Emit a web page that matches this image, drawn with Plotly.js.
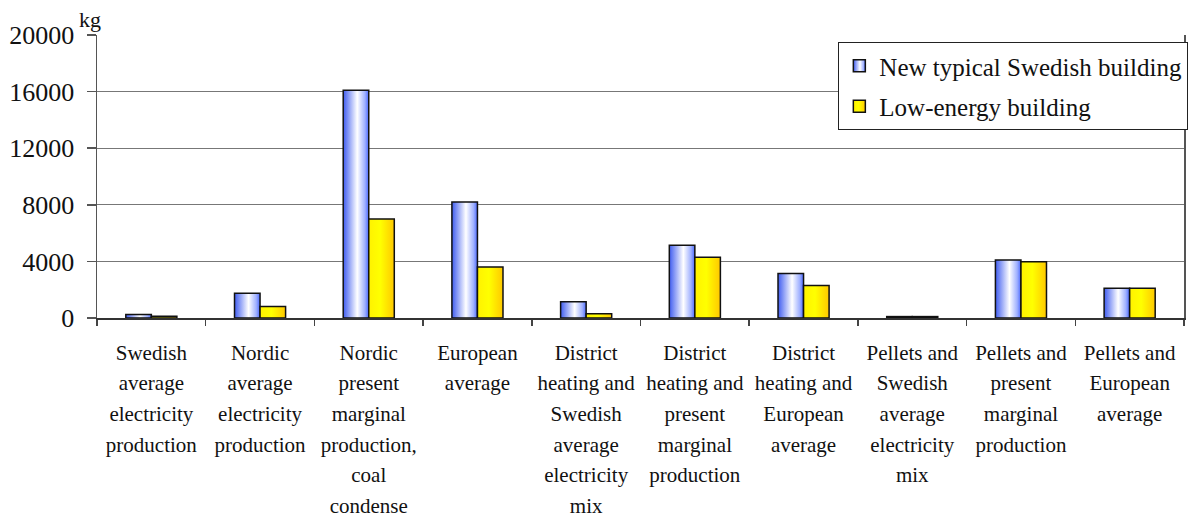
<!DOCTYPE html>
<html>
<head>
<meta charset="utf-8">
<script src="https://cdn.plot.ly/plotly-3.0.1.min.js"></script>
<style>
  html, body { margin: 0; padding: 0; background: #fff; }
  #chart { width: 1191px; height: 520px; }
</style>
</head>
<body>
<div id="chart"></div>
<script>
// ---- data ----
var categories = [
  "Swedish<br>average<br>electricity<br>production",
  "Nordic<br>average<br>electricity<br>production",
  "Nordic<br>present<br>marginal<br>production,<br>coal<br>condense",
  "European<br>average",
  "District<br>heating and<br>Swedish<br>average<br>electricity<br>mix",
  "District<br>heating and<br>present<br>marginal<br>production",
  "District<br>heating and<br>European<br>average",
  "Pellets and<br>Swedish<br>average<br>electricity<br>mix",
  "Pellets and<br>present<br>marginal<br>production",
  "Pellets and<br>European<br>average"
];
var seriesNames = ["New typical Swedish building", "Low-energy building"];
var typicalValues = [250, 1750, 16100, 8200, 1150, 5150, 3150, 100, 4100, 2100];
var lowEnergyValues = [120, 820, 7000, 3600, 300, 4300, 2300, 100, 3980, 2100];
var yTickVals = [0, 4000, 8000, 12000, 16000, 20000];
var yUnit = "kg";

var FONT = "Liberation Serif";

var traces = [
  {
    type: "bar", name: seriesNames[0], x: categories, y: typicalValues,
    legendgroup: "a",
    marker: { color: "#a9b8ff", line: { color: "#111", width: 1.5 } },
    hoverinfo: "y"
  },
  {
    type: "bar", name: seriesNames[1], x: categories, y: lowEnergyValues,
    legendgroup: "b",
    marker: { color: "#ffe000", line: { color: "#111", width: 1.5 } },
    hoverinfo: "y"
  }
];

var layout = {
  width: 1191, height: 520,
  margin: { l: 97, r: 3, t: 35, b: 202 },
  paper_bgcolor: "#fff", plot_bgcolor: "#fff",
  barmode: "group", bargap: 0.53, bargroupgap: 0,
  font: { family: FONT, color: "#111" },
  showlegend: true,
  legend: {
    x: 0.682, y: 0.975, xanchor: "left", yanchor: "top",
    bgcolor: "#fff", bordercolor: "#222", borderwidth: 1,
    font: { family: FONT, size: 25, color: "#111" },
    traceorder: "grouped",
    tracegroupgap: 5
  },
  xaxis: {
    type: "category",
    tickson: "boundaries",
    ticks: "outside", ticklen: 6, tickcolor: "#444", tickwidth: 1.5,
    showline: true, linecolor: "#333", linewidth: 1.5,
    showgrid: false, zeroline: false,
    tickangle: 0,
    tickfont: { family: FONT, size: 21, color: "#111" },
    ticklabelstandoff: 15
  },
  yaxis: {
    range: [0, 20000],
    tickvals: yTickVals,
    ticktext: yTickVals.map(String),
    ticks: "outside", ticklen: 9, tickcolor: "#555", tickwidth: 1.5,
    showline: true, linecolor: "#555", linewidth: 1.5, mirror: true,
    showgrid: true, gridcolor: "#777", gridwidth: 1.2,
    zeroline: false,
    tickfont: { family: FONT, size: 26, color: "#111" },
    ticklabelstandoff: 7
  },
  annotations: [
    {
      text: yUnit, xref: "paper", yref: "paper",
      x: -0.006, y: 1.055, xanchor: "center", yanchor: "middle",
      showarrow: false, font: { family: FONT, size: 22, color: "#111" }
    }
  ]
};

function decorate(gd) {
  var svg = gd.querySelector("svg.main-svg");
  var ns = "http://www.w3.org/2000/svg";
  var defs = document.createElementNS(ns, "defs");
  svg.insertBefore(defs, svg.firstChild);
  function grad(id, stops) {
    var g = document.createElementNS(ns, "linearGradient");
    g.setAttribute("id", id);
    g.setAttribute("x1", "0%"); g.setAttribute("y1", "0%");
    g.setAttribute("x2", "100%"); g.setAttribute("y2", "0%");
    stops.forEach(function (s) {
      var st = document.createElementNS(ns, "stop");
      st.setAttribute("offset", s[0]);
      st.setAttribute("stop-color", s[1]);
      g.appendChild(st);
    });
    defs.appendChild(g);
  }
  grad("gradBlue", [["0%", "#3f5cf0"], ["55%", "#ffffff"], ["85%", "#9fb0ff"], ["100%", "#4a68ff"]]);
  grad("gradYellow", [["0%", "#fff200"], ["45%", "#ffff00"], ["100%", "#ffc800"]]);
  var ids = ["gradBlue", "gradYellow"];
  gd.querySelectorAll("g.trace.bars").forEach(function (t, i) {
    t.querySelectorAll("path").forEach(function (p) { p.style.setProperty("fill", "url(#" + ids[i] + ")"); });
  });
  gd.querySelectorAll("g.legend g.traces").forEach(function (t, i) {
    t.querySelectorAll("g.legendpoints path").forEach(function (p) { p.style.setProperty("fill", "url(#" + ids[i] + ")"); });
  });
  gd.querySelectorAll(".xtick text").forEach(function (tx) {
    tx.querySelectorAll("tspan.line").forEach(function (ts, i) {
      ts.setAttribute("dy", (i * 1.46) + "em");
    });
  });
}

Plotly.newPlot("chart", traces, layout, { staticPlot: true }).then(decorate);
</script>
</body>
</html>
